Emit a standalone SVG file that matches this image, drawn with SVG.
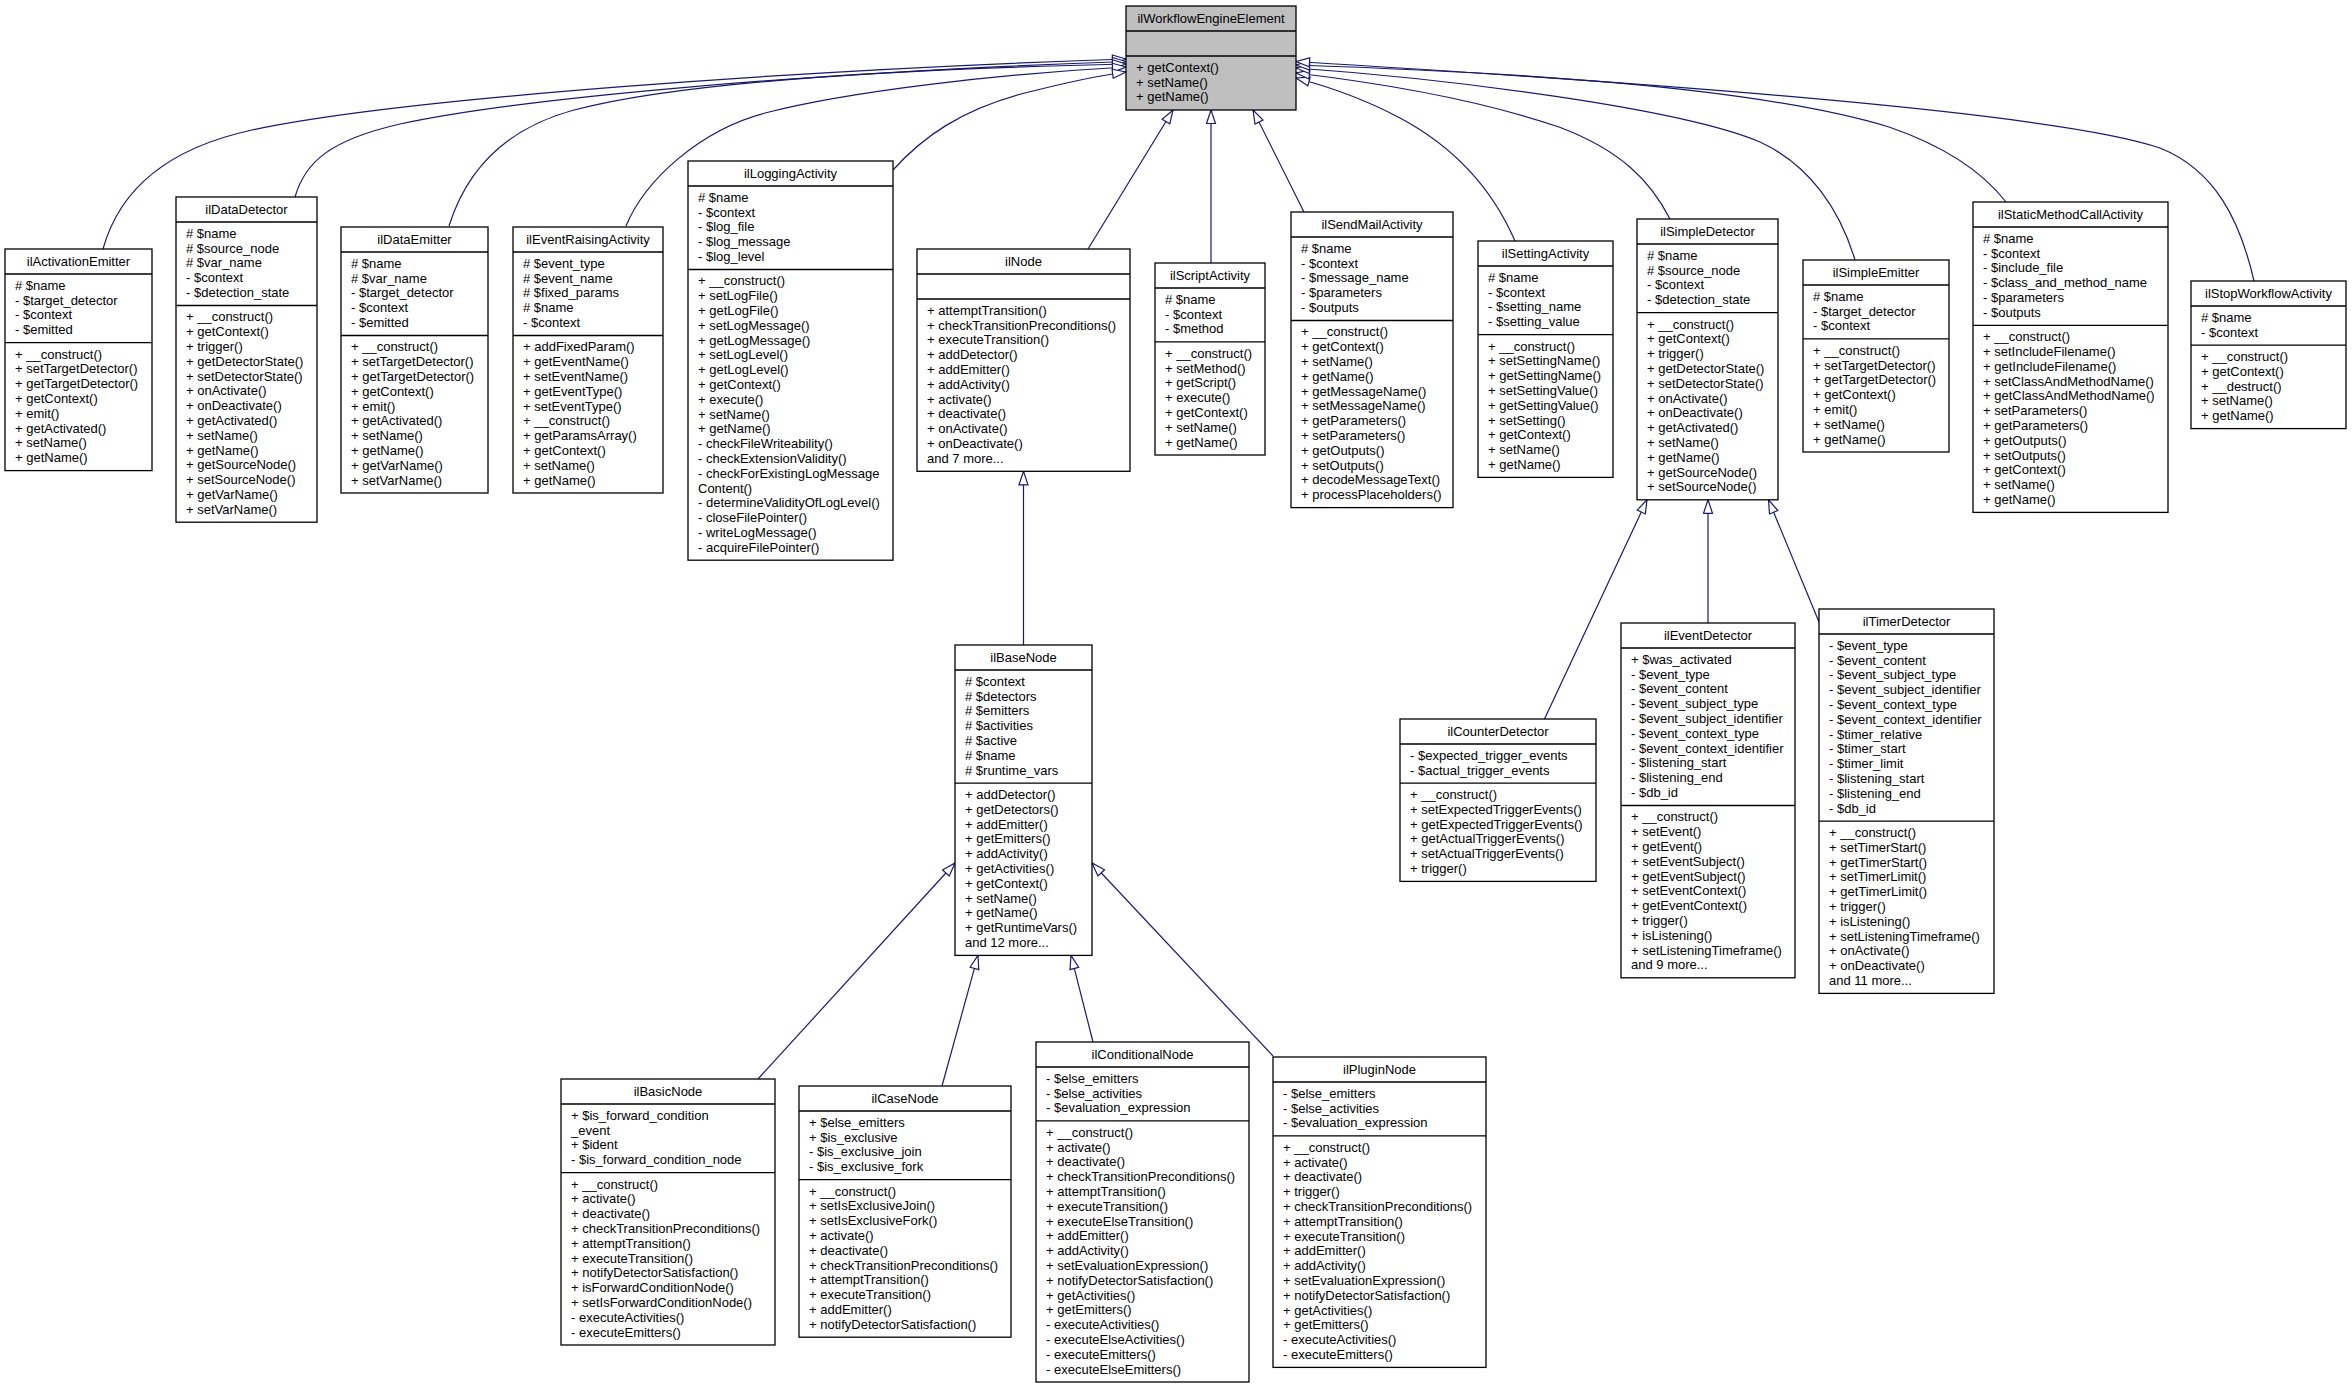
<svg xmlns="http://www.w3.org/2000/svg" width="2352" height="1388" viewBox="0 0 2352 1388">
<style>
.box{fill:#fff;stroke:#000;stroke-width:1.3}
.ln{fill:none;stroke:#000;stroke-width:1.3}
.t{font-family:"Liberation Sans",Arial,Helvetica,sans-serif;font-size:13px;fill:#000}
.h{text-anchor:middle}
.e{fill:none;stroke:#191970;stroke-width:1.2;marker-end:url(#a)}
</style>
<defs>
<marker id="a" markerUnits="userSpaceOnUse" viewBox="-1 -1 16 11" markerWidth="16" markerHeight="11" refX="13.5" refY="4.5" orient="auto"><path d="M0,0 L13.5,4.5 L0,9 Z" fill="#fff" stroke="#191970" stroke-width="1.2"/></marker>
</defs>
<rect width="2352" height="1388" fill="#fff"/>

<g id="connectors">
<path class="e" d="M103,249 C118,195 160,150 252,130 C400,98 800,70 1126,59"/>
<path class="e" d="M295,197 C305,162 330,140 400,124 C520,98 800,73 1126,61.5"/>
<path class="e" d="M449,226 C465,175 500,130 574,110 C680,82 900,69 1126,64"/>
<path class="e" d="M626,226 C645,180 700,130 765,113 C850,91 1000,74 1126,67"/>
<path class="e" d="M893,170 C920,140 960,108 1033,91 C1065,83 1095,76 1126,72"/>
<path class="e" d="M1088,249 L1173,110"/>
<path class="e" d="M1211,263 L1211,110"/>
<path class="e" d="M1304,212 L1253,110"/>
<path class="e" d="M1515,241 C1495,195 1460,150 1400,118 C1370,102 1330,87 1296,78"/>
<path class="e" d="M1670,219 C1650,180 1620,150 1559,127 C1480,100 1380,83 1296,73"/>
<path class="e" d="M1855,260 C1840,210 1810,165 1760,142 C1680,108 1450,79 1296,68"/>
<path class="e" d="M2006,202 C1985,175 1950,148 1889,127 C1750,85 1500,72 1296,65"/>
<path class="e" d="M2254,281 C2240,220 2215,170 2160,148 C2050,110 1600,80 1296,61.5"/>
<path class="e" d="M1023.5,645 L1023.5,471.3"/>
<path class="e" d="M1544.5,719 L1647,499.8"/>
<path class="e" d="M1708,623 L1708,499.8"/>
<path class="e" d="M1819,622 L1768.5,499.8"/>
<path class="e" d="M758,1079 L955,863"/>
<path class="e" d="M942,1086 L978,955.4"/>
<path class="e" d="M1093,1042 L1071,955.4"/>
<path class="e" d="M1273,1056 L1092,863"/>
</g>

<g id="ilWorkflowEngineElement">
<rect class="box" x="1126" y="6" width="170" height="104" style="fill:#bfbfbf"/>
<path class="ln" d="M1126,31H1296M1126,56H1296"/>
<text class="t h" x="1211" y="23">ilWorkflowEngineElement</text>
<text class="t" y="71.8"><tspan x="1136">+ getContext()</tspan><tspan x="1136" dy="14.8">+ setName()</tspan><tspan x="1136" dy="14.8">+ getName()</tspan></text>
</g>

<g id="ilActivationEmitter">
<rect class="box" x="5" y="249" width="147" height="221.6"/>
<path class="ln" d="M5,274H152M5,342.7H152"/>
<text class="t h" x="78.5" y="266">ilActivationEmitter</text>
<text class="t" y="289.8"><tspan x="15"># $name</tspan><tspan x="15" dy="14.8">- $target_detector</tspan><tspan x="15" dy="14.8">- $context</tspan><tspan x="15" dy="14.8">- $emitted</tspan></text>
<text class="t" y="358.5"><tspan x="15">+ __construct()</tspan><tspan x="15" dy="14.8">+ setTargetDetector()</tspan><tspan x="15" dy="14.8">+ getTargetDetector()</tspan><tspan x="15" dy="14.8">+ getContext()</tspan><tspan x="15" dy="14.8">+ emit()</tspan><tspan x="15" dy="14.8">+ getActivated()</tspan><tspan x="15" dy="14.8">+ setName()</tspan><tspan x="15" dy="14.8">+ getName()</tspan></text>
</g>

<g id="ilDataDetector">
<rect class="box" x="176" y="197" width="141" height="325.2"/>
<path class="ln" d="M176,222H317M176,305.5H317"/>
<text class="t h" x="246.5" y="214">ilDataDetector</text>
<text class="t" y="237.8"><tspan x="186"># $name</tspan><tspan x="186" dy="14.8"># $source_node</tspan><tspan x="186" dy="14.8"># $var_name</tspan><tspan x="186" dy="14.8">- $context</tspan><tspan x="186" dy="14.8">- $detection_state</tspan></text>
<text class="t" y="321.3"><tspan x="186">+ __construct()</tspan><tspan x="186" dy="14.8">+ getContext()</tspan><tspan x="186" dy="14.8">+ trigger()</tspan><tspan x="186" dy="14.8">+ getDetectorState()</tspan><tspan x="186" dy="14.8">+ setDetectorState()</tspan><tspan x="186" dy="14.8">+ onActivate()</tspan><tspan x="186" dy="14.8">+ onDeactivate()</tspan><tspan x="186" dy="14.8">+ getActivated()</tspan><tspan x="186" dy="14.8">+ setName()</tspan><tspan x="186" dy="14.8">+ getName()</tspan><tspan x="186" dy="14.8">+ getSourceNode()</tspan><tspan x="186" dy="14.8">+ setSourceNode()</tspan><tspan x="186" dy="14.8">+ getVarName()</tspan><tspan x="186" dy="14.8">+ setVarName()</tspan></text>
</g>

<g id="ilDataEmitter">
<rect class="box" x="341" y="227" width="147" height="266"/>
<path class="ln" d="M341,252H488M341,335.5H488"/>
<text class="t h" x="414.5" y="244">ilDataEmitter</text>
<text class="t" y="267.8"><tspan x="351"># $name</tspan><tspan x="351" dy="14.8"># $var_name</tspan><tspan x="351" dy="14.8">- $target_detector</tspan><tspan x="351" dy="14.8">- $context</tspan><tspan x="351" dy="14.8">- $emitted</tspan></text>
<text class="t" y="351.3"><tspan x="351">+ __construct()</tspan><tspan x="351" dy="14.8">+ setTargetDetector()</tspan><tspan x="351" dy="14.8">+ getTargetDetector()</tspan><tspan x="351" dy="14.8">+ getContext()</tspan><tspan x="351" dy="14.8">+ emit()</tspan><tspan x="351" dy="14.8">+ getActivated()</tspan><tspan x="351" dy="14.8">+ setName()</tspan><tspan x="351" dy="14.8">+ getName()</tspan><tspan x="351" dy="14.8">+ getVarName()</tspan><tspan x="351" dy="14.8">+ setVarName()</tspan></text>
</g>

<g id="ilEventRaisingActivity">
<rect class="box" x="513" y="227" width="150" height="266"/>
<path class="ln" d="M513,252H663M513,335.5H663"/>
<text class="t h" x="588" y="244">ilEventRaisingActivity</text>
<text class="t" y="267.8"><tspan x="523"># $event_type</tspan><tspan x="523" dy="14.8"># $event_name</tspan><tspan x="523" dy="14.8"># $fixed_params</tspan><tspan x="523" dy="14.8"># $name</tspan><tspan x="523" dy="14.8">- $context</tspan></text>
<text class="t" y="351.3"><tspan x="523">+ addFixedParam()</tspan><tspan x="523" dy="14.8">+ getEventName()</tspan><tspan x="523" dy="14.8">+ setEventName()</tspan><tspan x="523" dy="14.8">+ getEventType()</tspan><tspan x="523" dy="14.8">+ setEventType()</tspan><tspan x="523" dy="14.8">+ __construct()</tspan><tspan x="523" dy="14.8">+ getParamsArray()</tspan><tspan x="523" dy="14.8">+ getContext()</tspan><tspan x="523" dy="14.8">+ setName()</tspan><tspan x="523" dy="14.8">+ getName()</tspan></text>
</g>

<g id="ilLoggingActivity">
<rect class="box" x="688" y="161" width="205" height="399.2"/>
<path class="ln" d="M688,186H893M688,269.5H893"/>
<text class="t h" x="790.5" y="178">ilLoggingActivity</text>
<text class="t" y="201.8"><tspan x="698"># $name</tspan><tspan x="698" dy="14.8">- $context</tspan><tspan x="698" dy="14.8">- $log_file</tspan><tspan x="698" dy="14.8">- $log_message</tspan><tspan x="698" dy="14.8">- $log_level</tspan></text>
<text class="t" y="285.3"><tspan x="698">+ __construct()</tspan><tspan x="698" dy="14.8">+ setLogFile()</tspan><tspan x="698" dy="14.8">+ getLogFile()</tspan><tspan x="698" dy="14.8">+ setLogMessage()</tspan><tspan x="698" dy="14.8">+ getLogMessage()</tspan><tspan x="698" dy="14.8">+ setLogLevel()</tspan><tspan x="698" dy="14.8">+ getLogLevel()</tspan><tspan x="698" dy="14.8">+ getContext()</tspan><tspan x="698" dy="14.8">+ execute()</tspan><tspan x="698" dy="14.8">+ setName()</tspan><tspan x="698" dy="14.8">+ getName()</tspan><tspan x="698" dy="14.8">- checkFileWriteability()</tspan><tspan x="698" dy="14.8">- checkExtensionValidity()</tspan><tspan x="698" dy="14.8">- checkForExistingLogMessage</tspan><tspan x="698" dy="14.8">Content()</tspan><tspan x="698" dy="14.8">- determineValidityOfLogLevel()</tspan><tspan x="698" dy="14.8">- closeFilePointer()</tspan><tspan x="698" dy="14.8">- writeLogMessage()</tspan><tspan x="698" dy="14.8">- acquireFilePointer()</tspan></text>
</g>

<g id="ilNode">
<rect class="box" x="917" y="249" width="213" height="222.3"/>
<path class="ln" d="M917,274H1130M917,299H1130"/>
<text class="t h" x="1023.5" y="266">ilNode</text>
<text class="t" y="314.8"><tspan x="927">+ attemptTransition()</tspan><tspan x="927" dy="14.8">+ checkTransitionPreconditions()</tspan><tspan x="927" dy="14.8">+ executeTransition()</tspan><tspan x="927" dy="14.8">+ addDetector()</tspan><tspan x="927" dy="14.8">+ addEmitter()</tspan><tspan x="927" dy="14.8">+ addActivity()</tspan><tspan x="927" dy="14.8">+ activate()</tspan><tspan x="927" dy="14.8">+ deactivate()</tspan><tspan x="927" dy="14.8">+ onActivate()</tspan><tspan x="927" dy="14.8">+ onDeactivate()</tspan><tspan x="927" dy="14.8">and 7 more...</tspan></text>
</g>

<g id="ilScriptActivity">
<rect class="box" x="1155" y="263" width="110" height="192"/>
<path class="ln" d="M1155,288H1265M1155,341.9H1265"/>
<text class="t h" x="1210" y="280">ilScriptActivity</text>
<text class="t" y="303.8"><tspan x="1165"># $name</tspan><tspan x="1165" dy="14.8">- $context</tspan><tspan x="1165" dy="14.8">- $method</tspan></text>
<text class="t" y="357.7"><tspan x="1165">+ __construct()</tspan><tspan x="1165" dy="14.8">+ setMethod()</tspan><tspan x="1165" dy="14.8">+ getScript()</tspan><tspan x="1165" dy="14.8">+ execute()</tspan><tspan x="1165" dy="14.8">+ getContext()</tspan><tspan x="1165" dy="14.8">+ setName()</tspan><tspan x="1165" dy="14.8">+ getName()</tspan></text>
</g>

<g id="ilSendMailActivity">
<rect class="box" x="1291" y="212" width="162" height="295.6"/>
<path class="ln" d="M1291,237H1453M1291,320.5H1453"/>
<text class="t h" x="1372" y="229">ilSendMailActivity</text>
<text class="t" y="252.8"><tspan x="1301"># $name</tspan><tspan x="1301" dy="14.8">- $context</tspan><tspan x="1301" dy="14.8">- $message_name</tspan><tspan x="1301" dy="14.8">- $parameters</tspan><tspan x="1301" dy="14.8">- $outputs</tspan></text>
<text class="t" y="336.3"><tspan x="1301">+ __construct()</tspan><tspan x="1301" dy="14.8">+ getContext()</tspan><tspan x="1301" dy="14.8">+ setName()</tspan><tspan x="1301" dy="14.8">+ getName()</tspan><tspan x="1301" dy="14.8">+ getMessageName()</tspan><tspan x="1301" dy="14.8">+ setMessageName()</tspan><tspan x="1301" dy="14.8">+ getParameters()</tspan><tspan x="1301" dy="14.8">+ setParameters()</tspan><tspan x="1301" dy="14.8">+ getOutputs()</tspan><tspan x="1301" dy="14.8">+ setOutputs()</tspan><tspan x="1301" dy="14.8">+ decodeMessageText()</tspan><tspan x="1301" dy="14.8">+ processPlaceholders()</tspan></text>
</g>

<g id="ilSettingActivity">
<rect class="box" x="1478" y="241" width="135" height="236.4"/>
<path class="ln" d="M1478,266H1613M1478,334.7H1613"/>
<text class="t h" x="1545.5" y="258">ilSettingActivity</text>
<text class="t" y="281.8"><tspan x="1488"># $name</tspan><tspan x="1488" dy="14.8">- $context</tspan><tspan x="1488" dy="14.8">- $setting_name</tspan><tspan x="1488" dy="14.8">- $setting_value</tspan></text>
<text class="t" y="350.5"><tspan x="1488">+ __construct()</tspan><tspan x="1488" dy="14.8">+ setSettingName()</tspan><tspan x="1488" dy="14.8">+ getSettingName()</tspan><tspan x="1488" dy="14.8">+ setSettingValue()</tspan><tspan x="1488" dy="14.8">+ getSettingValue()</tspan><tspan x="1488" dy="14.8">+ setSetting()</tspan><tspan x="1488" dy="14.8">+ getContext()</tspan><tspan x="1488" dy="14.8">+ setName()</tspan><tspan x="1488" dy="14.8">+ getName()</tspan></text>
</g>

<g id="ilSimpleDetector">
<rect class="box" x="1637" y="219" width="141" height="280.8"/>
<path class="ln" d="M1637,244H1778M1637,312.7H1778"/>
<text class="t h" x="1707.5" y="236">ilSimpleDetector</text>
<text class="t" y="259.8"><tspan x="1647"># $name</tspan><tspan x="1647" dy="14.8"># $source_node</tspan><tspan x="1647" dy="14.8">- $context</tspan><tspan x="1647" dy="14.8">- $detection_state</tspan></text>
<text class="t" y="328.5"><tspan x="1647">+ __construct()</tspan><tspan x="1647" dy="14.8">+ getContext()</tspan><tspan x="1647" dy="14.8">+ trigger()</tspan><tspan x="1647" dy="14.8">+ getDetectorState()</tspan><tspan x="1647" dy="14.8">+ setDetectorState()</tspan><tspan x="1647" dy="14.8">+ onActivate()</tspan><tspan x="1647" dy="14.8">+ onDeactivate()</tspan><tspan x="1647" dy="14.8">+ getActivated()</tspan><tspan x="1647" dy="14.8">+ setName()</tspan><tspan x="1647" dy="14.8">+ getName()</tspan><tspan x="1647" dy="14.8">+ getSourceNode()</tspan><tspan x="1647" dy="14.8">+ setSourceNode()</tspan></text>
</g>

<g id="ilSimpleEmitter">
<rect class="box" x="1803" y="260" width="146" height="192"/>
<path class="ln" d="M1803,285H1949M1803,338.9H1949"/>
<text class="t h" x="1876" y="277">ilSimpleEmitter</text>
<text class="t" y="300.8"><tspan x="1813"># $name</tspan><tspan x="1813" dy="14.8">- $target_detector</tspan><tspan x="1813" dy="14.8">- $context</tspan></text>
<text class="t" y="354.7"><tspan x="1813">+ __construct()</tspan><tspan x="1813" dy="14.8">+ setTargetDetector()</tspan><tspan x="1813" dy="14.8">+ getTargetDetector()</tspan><tspan x="1813" dy="14.8">+ getContext()</tspan><tspan x="1813" dy="14.8">+ emit()</tspan><tspan x="1813" dy="14.8">+ setName()</tspan><tspan x="1813" dy="14.8">+ getName()</tspan></text>
</g>

<g id="ilStaticMethodCallActivity">
<rect class="box" x="1973" y="202" width="195" height="310.4"/>
<path class="ln" d="M1973,227H2168M1973,325.3H2168"/>
<text class="t h" x="2070.5" y="219">ilStaticMethodCallActivity</text>
<text class="t" y="242.8"><tspan x="1983"># $name</tspan><tspan x="1983" dy="14.8">- $context</tspan><tspan x="1983" dy="14.8">- $include_file</tspan><tspan x="1983" dy="14.8">- $class_and_method_name</tspan><tspan x="1983" dy="14.8">- $parameters</tspan><tspan x="1983" dy="14.8">- $outputs</tspan></text>
<text class="t" y="341.1"><tspan x="1983">+ __construct()</tspan><tspan x="1983" dy="14.8">+ setIncludeFilename()</tspan><tspan x="1983" dy="14.8">+ getIncludeFilename()</tspan><tspan x="1983" dy="14.8">+ setClassAndMethodName()</tspan><tspan x="1983" dy="14.8">+ getClassAndMethodName()</tspan><tspan x="1983" dy="14.8">+ setParameters()</tspan><tspan x="1983" dy="14.8">+ getParameters()</tspan><tspan x="1983" dy="14.8">+ getOutputs()</tspan><tspan x="1983" dy="14.8">+ setOutputs()</tspan><tspan x="1983" dy="14.8">+ getContext()</tspan><tspan x="1983" dy="14.8">+ setName()</tspan><tspan x="1983" dy="14.8">+ getName()</tspan></text>
</g>

<g id="ilStopWorkflowActivity">
<rect class="box" x="2191" y="281" width="155" height="147.6"/>
<path class="ln" d="M2191,306H2346M2191,345.1H2346"/>
<text class="t h" x="2268.5" y="298">ilStopWorkflowActivity</text>
<text class="t" y="321.8"><tspan x="2201"># $name</tspan><tspan x="2201" dy="14.8">- $context</tspan></text>
<text class="t" y="360.9"><tspan x="2201">+ __construct()</tspan><tspan x="2201" dy="14.8">+ getContext()</tspan><tspan x="2201" dy="14.8">+ __destruct()</tspan><tspan x="2201" dy="14.8">+ setName()</tspan><tspan x="2201" dy="14.8">+ getName()</tspan></text>
</g>

<g id="ilCounterDetector">
<rect class="box" x="1400" y="719" width="196" height="162.4"/>
<path class="ln" d="M1400,744H1596M1400,783.1H1596"/>
<text class="t h" x="1498" y="736">ilCounterDetector</text>
<text class="t" y="759.8"><tspan x="1410">- $expected_trigger_events</tspan><tspan x="1410" dy="14.8">- $actual_trigger_events</tspan></text>
<text class="t" y="798.9"><tspan x="1410">+ __construct()</tspan><tspan x="1410" dy="14.8">+ setExpectedTriggerEvents()</tspan><tspan x="1410" dy="14.8">+ getExpectedTriggerEvents()</tspan><tspan x="1410" dy="14.8">+ getActualTriggerEvents()</tspan><tspan x="1410" dy="14.8">+ setActualTriggerEvents()</tspan><tspan x="1410" dy="14.8">+ trigger()</tspan></text>
</g>

<g id="ilEventDetector">
<rect class="box" x="1621" y="623" width="174" height="354.8"/>
<path class="ln" d="M1621,648H1795M1621,805.5H1795"/>
<text class="t h" x="1708" y="640">ilEventDetector</text>
<text class="t" y="663.8"><tspan x="1631">+ $was_activated</tspan><tspan x="1631" dy="14.8">- $event_type</tspan><tspan x="1631" dy="14.8">- $event_content</tspan><tspan x="1631" dy="14.8">- $event_subject_type</tspan><tspan x="1631" dy="14.8">- $event_subject_identifier</tspan><tspan x="1631" dy="14.8">- $event_context_type</tspan><tspan x="1631" dy="14.8">- $event_context_identifier</tspan><tspan x="1631" dy="14.8">- $listening_start</tspan><tspan x="1631" dy="14.8">- $listening_end</tspan><tspan x="1631" dy="14.8">- $db_id</tspan></text>
<text class="t" y="821.3"><tspan x="1631">+ __construct()</tspan><tspan x="1631" dy="14.8">+ setEvent()</tspan><tspan x="1631" dy="14.8">+ getEvent()</tspan><tspan x="1631" dy="14.8">+ setEventSubject()</tspan><tspan x="1631" dy="14.8">+ getEventSubject()</tspan><tspan x="1631" dy="14.8">+ setEventContext()</tspan><tspan x="1631" dy="14.8">+ getEventContext()</tspan><tspan x="1631" dy="14.8">+ trigger()</tspan><tspan x="1631" dy="14.8">+ isListening()</tspan><tspan x="1631" dy="14.8">+ setListeningTimeframe()</tspan><tspan x="1631" dy="14.8">and 9 more...</tspan></text>
</g>

<g id="ilTimerDetector">
<rect class="box" x="1819" y="609" width="175" height="384.4"/>
<path class="ln" d="M1819,634H1994M1819,821.1H1994"/>
<text class="t h" x="1906.5" y="626">ilTimerDetector</text>
<text class="t" y="649.8"><tspan x="1829">- $event_type</tspan><tspan x="1829" dy="14.8">- $event_content</tspan><tspan x="1829" dy="14.8">- $event_subject_type</tspan><tspan x="1829" dy="14.8">- $event_subject_identifier</tspan><tspan x="1829" dy="14.8">- $event_context_type</tspan><tspan x="1829" dy="14.8">- $event_context_identifier</tspan><tspan x="1829" dy="14.8">- $timer_relative</tspan><tspan x="1829" dy="14.8">- $timer_start</tspan><tspan x="1829" dy="14.8">- $timer_limit</tspan><tspan x="1829" dy="14.8">- $listening_start</tspan><tspan x="1829" dy="14.8">- $listening_end</tspan><tspan x="1829" dy="14.8">- $db_id</tspan></text>
<text class="t" y="836.9"><tspan x="1829">+ __construct()</tspan><tspan x="1829" dy="14.8">+ setTimerStart()</tspan><tspan x="1829" dy="14.8">+ getTimerStart()</tspan><tspan x="1829" dy="14.8">+ setTimerLimit()</tspan><tspan x="1829" dy="14.8">+ getTimerLimit()</tspan><tspan x="1829" dy="14.8">+ trigger()</tspan><tspan x="1829" dy="14.8">+ isListening()</tspan><tspan x="1829" dy="14.8">+ setListeningTimeframe()</tspan><tspan x="1829" dy="14.8">+ onActivate()</tspan><tspan x="1829" dy="14.8">+ onDeactivate()</tspan><tspan x="1829" dy="14.8">and 11 more...</tspan></text>
</g>

<g id="ilBaseNode">
<rect class="box" x="955" y="645" width="137" height="310.4"/>
<path class="ln" d="M955,670H1092M955,783.1H1092"/>
<text class="t h" x="1023.5" y="662">ilBaseNode</text>
<text class="t" y="685.8"><tspan x="965"># $context</tspan><tspan x="965" dy="14.8"># $detectors</tspan><tspan x="965" dy="14.8"># $emitters</tspan><tspan x="965" dy="14.8"># $activities</tspan><tspan x="965" dy="14.8"># $active</tspan><tspan x="965" dy="14.8"># $name</tspan><tspan x="965" dy="14.8"># $runtime_vars</tspan></text>
<text class="t" y="798.9"><tspan x="965">+ addDetector()</tspan><tspan x="965" dy="14.8">+ getDetectors()</tspan><tspan x="965" dy="14.8">+ addEmitter()</tspan><tspan x="965" dy="14.8">+ getEmitters()</tspan><tspan x="965" dy="14.8">+ addActivity()</tspan><tspan x="965" dy="14.8">+ getActivities()</tspan><tspan x="965" dy="14.8">+ getContext()</tspan><tspan x="965" dy="14.8">+ setName()</tspan><tspan x="965" dy="14.8">+ getName()</tspan><tspan x="965" dy="14.8">+ getRuntimeVars()</tspan><tspan x="965" dy="14.8">and 12 more...</tspan></text>
</g>

<g id="ilBasicNode">
<rect class="box" x="561" y="1079" width="214" height="266"/>
<path class="ln" d="M561,1104H775M561,1172.7H775"/>
<text class="t h" x="668" y="1096">ilBasicNode</text>
<text class="t" y="1119.8"><tspan x="571">+ $is_forward_condition</tspan><tspan x="571" dy="14.8">_event</tspan><tspan x="571" dy="14.8">+ $ident</tspan><tspan x="571" dy="14.8">- $is_forward_condition_node</tspan></text>
<text class="t" y="1188.5"><tspan x="571">+ __construct()</tspan><tspan x="571" dy="14.8">+ activate()</tspan><tspan x="571" dy="14.8">+ deactivate()</tspan><tspan x="571" dy="14.8">+ checkTransitionPreconditions()</tspan><tspan x="571" dy="14.8">+ attemptTransition()</tspan><tspan x="571" dy="14.8">+ executeTransition()</tspan><tspan x="571" dy="14.8">+ notifyDetectorSatisfaction()</tspan><tspan x="571" dy="14.8">+ isForwardConditionNode()</tspan><tspan x="571" dy="14.8">+ setIsForwardConditionNode()</tspan><tspan x="571" dy="14.8">- executeActivities()</tspan><tspan x="571" dy="14.8">- executeEmitters()</tspan></text>
</g>

<g id="ilCaseNode">
<rect class="box" x="799" y="1086" width="212" height="251.2"/>
<path class="ln" d="M799,1111H1011M799,1179.7H1011"/>
<text class="t h" x="905" y="1103">ilCaseNode</text>
<text class="t" y="1126.8"><tspan x="809">+ $else_emitters</tspan><tspan x="809" dy="14.8">+ $is_exclusive</tspan><tspan x="809" dy="14.8">- $is_exclusive_join</tspan><tspan x="809" dy="14.8">- $is_exclusive_fork</tspan></text>
<text class="t" y="1195.5"><tspan x="809">+ __construct()</tspan><tspan x="809" dy="14.8">+ setIsExclusiveJoin()</tspan><tspan x="809" dy="14.8">+ setIsExclusiveFork()</tspan><tspan x="809" dy="14.8">+ activate()</tspan><tspan x="809" dy="14.8">+ deactivate()</tspan><tspan x="809" dy="14.8">+ checkTransitionPreconditions()</tspan><tspan x="809" dy="14.8">+ attemptTransition()</tspan><tspan x="809" dy="14.8">+ executeTransition()</tspan><tspan x="809" dy="14.8">+ addEmitter()</tspan><tspan x="809" dy="14.8">+ notifyDetectorSatisfaction()</tspan></text>
</g>

<g id="ilConditionalNode">
<rect class="box" x="1036" y="1042" width="213" height="340"/>
<path class="ln" d="M1036,1067H1249M1036,1120.9H1249"/>
<text class="t h" x="1142.5" y="1059">ilConditionalNode</text>
<text class="t" y="1082.8"><tspan x="1046">- $else_emitters</tspan><tspan x="1046" dy="14.8">- $else_activities</tspan><tspan x="1046" dy="14.8">- $evaluation_expression</tspan></text>
<text class="t" y="1136.7"><tspan x="1046">+ __construct()</tspan><tspan x="1046" dy="14.8">+ activate()</tspan><tspan x="1046" dy="14.8">+ deactivate()</tspan><tspan x="1046" dy="14.8">+ checkTransitionPreconditions()</tspan><tspan x="1046" dy="14.8">+ attemptTransition()</tspan><tspan x="1046" dy="14.8">+ executeTransition()</tspan><tspan x="1046" dy="14.8">+ executeElseTransition()</tspan><tspan x="1046" dy="14.8">+ addEmitter()</tspan><tspan x="1046" dy="14.8">+ addActivity()</tspan><tspan x="1046" dy="14.8">+ setEvaluationExpression()</tspan><tspan x="1046" dy="14.8">+ notifyDetectorSatisfaction()</tspan><tspan x="1046" dy="14.8">+ getActivities()</tspan><tspan x="1046" dy="14.8">+ getEmitters()</tspan><tspan x="1046" dy="14.8">- executeActivities()</tspan><tspan x="1046" dy="14.8">- executeElseActivities()</tspan><tspan x="1046" dy="14.8">- executeEmitters()</tspan><tspan x="1046" dy="14.8">- executeElseEmitters()</tspan></text>
</g>

<g id="ilPluginNode">
<rect class="box" x="1273" y="1057" width="213" height="310.4"/>
<path class="ln" d="M1273,1082H1486M1273,1135.9H1486"/>
<text class="t h" x="1379.5" y="1074">ilPluginNode</text>
<text class="t" y="1097.8"><tspan x="1283">- $else_emitters</tspan><tspan x="1283" dy="14.8">- $else_activities</tspan><tspan x="1283" dy="14.8">- $evaluation_expression</tspan></text>
<text class="t" y="1151.7"><tspan x="1283">+ __construct()</tspan><tspan x="1283" dy="14.8">+ activate()</tspan><tspan x="1283" dy="14.8">+ deactivate()</tspan><tspan x="1283" dy="14.8">+ trigger()</tspan><tspan x="1283" dy="14.8">+ checkTransitionPreconditions()</tspan><tspan x="1283" dy="14.8">+ attemptTransition()</tspan><tspan x="1283" dy="14.8">+ executeTransition()</tspan><tspan x="1283" dy="14.8">+ addEmitter()</tspan><tspan x="1283" dy="14.8">+ addActivity()</tspan><tspan x="1283" dy="14.8">+ setEvaluationExpression()</tspan><tspan x="1283" dy="14.8">+ notifyDetectorSatisfaction()</tspan><tspan x="1283" dy="14.8">+ getActivities()</tspan><tspan x="1283" dy="14.8">+ getEmitters()</tspan><tspan x="1283" dy="14.8">- executeActivities()</tspan><tspan x="1283" dy="14.8">- executeEmitters()</tspan></text>
</g>
</svg>
